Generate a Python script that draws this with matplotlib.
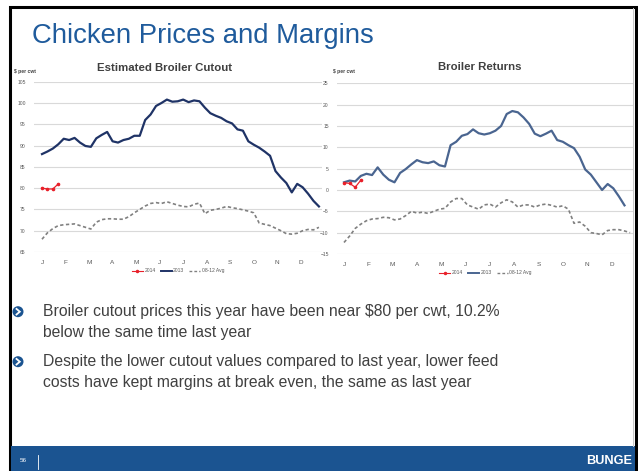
import matplotlib
matplotlib.use("Agg")
import matplotlib.pyplot as plt
from matplotlib.lines import Line2D
from matplotlib.patches import Rectangle, Ellipse
import numpy as np

plt.rcParams['font.family'] = ['Liberation Sans', 'DejaVu Sans']

# ---------------- data ----------------
month_labels = ["J", "F", "M", "A", "M", "J", "J", "A", "S", "O", "N", "D"]
series_names = ["2014", "2013", "08-12 Avg"]

cutout_2014 = [80.0, 79.8, 79.8, 81.0]
cutout_2013 = [88.0, 88.6, 89.3, 90.3, 91.6, 91.3, 91.8, 90.7, 89.9, 89.7,
               91.7, 92.5, 93.2, 91.0, 90.7, 91.3, 91.6, 92.3, 92.3, 96.0,
               97.3, 99.3, 100.0, 100.8, 100.3, 100.4, 100.8, 100.2, 100.6, 100.4,
               98.9, 97.6, 97.0, 96.5, 95.7, 95.2, 93.8, 93.5, 91.0, 90.2,
               89.5, 88.6, 87.6, 84.0, 82.5, 81.2, 79.0, 81.0, 80.2, 78.7,
               77.0, 75.7]
cutout_avg = [68.0, 69.5, 70.5, 71.2, 71.4, 71.5, 71.6, 71.2, 70.8, 70.4,
              72.0, 72.6, 72.8, 72.8, 72.7, 72.7, 73.3, 74.2, 75.0, 75.8,
              76.4, 76.6, 76.4, 76.8, 76.4, 76.0, 75.7, 75.6, 76.2, 76.5,
              74.0, 74.8, 75.0, 75.3, 75.7, 75.4, 75.2, 74.9, 74.6, 74.2,
              71.8, 71.5, 71.2, 70.6, 70.0, 69.3, 69.2, 69.4, 70.0, 70.3,
              70.2, 70.8]

returns_2014 = [1.7, 1.55, 0.65, 2.3]
returns_2013 = [1.8, 2.2, 2.0, 3.3, 3.8, 3.5, 5.3, 3.6, 2.4, 1.8,
                4.0, 4.9, 6.0, 7.0, 6.5, 6.3, 6.7, 5.8, 5.5, 10.5,
                11.3, 12.7, 13.1, 14.2, 13.3, 13.0, 13.3, 13.9, 15.0, 17.8,
                18.5, 18.2, 17.0, 15.5, 13.2, 12.6, 13.2, 13.9, 11.7, 11.3,
                10.5, 9.8, 7.8, 4.8, 3.6, 1.8, 0.0, 1.4, 0.4, -1.5,
                -3.6]
returns_avg = [-12.3, -10.8, -9.0, -8.0, -7.2, -6.8, -6.7, -6.4, -6.5, -7.0,
               -6.8, -6.0, -5.0, -5.4, -5.2, -5.5, -5.0, -4.5, -4.3, -2.8,
               -2.0, -2.0, -3.5, -4.0, -4.5, -3.5, -3.3, -4.0, -3.0, -2.3,
               -2.8, -4.0, -3.5, -3.5, -4.0, -3.5, -3.3, -3.6, -4.0, -3.7,
               -4.5, -7.8, -7.5, -8.5, -10.0, -10.2, -10.5, -9.5, -9.3, -9.3,
               -9.6, -10.0]

bullets = [
    "Broiler cutout prices this year have been near $80 per cwt, 10.2%\nbelow the same time last year",
    "Despite the lower cutout values compared to last year, lower feed\ncosts have kept margins at break even, the same as last year",
]

# ---------------- figure ----------------
W, H = 638, 471
fig = plt.figure(figsize=(W / 100, H / 100), dpi=100)
fig.patch.set_facecolor("white")

def fx(px):
    return px / W

def fy(py):
    return 1 - py / H

# slide frame
fig.add_artist(Rectangle((fx(9.5), fy(471)), fx(626), fy(6.5) - fy(471),
                         transform=fig.transFigure, fill=False, edgecolor="black",
                         linewidth=2.2, zorder=0))
fig.add_artist(Line2D([fx(633), fx(633)], [fy(8), fy(446)], transform=fig.transFigure,
                      color="#c8c8c8", linewidth=0.7))
# footer bar
fig.add_artist(Rectangle((fx(10.5), 0), fx(624), fy(446), transform=fig.transFigure,
                         facecolor="#1b5491", edgecolor="none", zorder=1))
fig.text(fx(20), fy(461), "56", color="white", fontsize=4.5, va="center", ha="left")
fig.add_artist(Line2D([fx(38), fx(38)], [fy(455), fy(469)], transform=fig.transFigure,
                      color="white", linewidth=0.6))
fig.text(fx(632), fy(461), "BUNGE", color="white", fontsize=9.2, fontweight="bold",
         va="center", ha="right")

# title
fig.text(fx(32), fy(36), "Chicken Prices and Margins", color="#1f5b9c",
         fontsize=19.8, va="center", ha="left")

C2014 = "#e8202a"
C13L = "#1f3366"
C13R = "#4a6590"
CAVG = "#808080"

def style_axes(ax, ylim, yticks):
    ax.set_ylim(*ylim)
    ax.set_yticks(yticks)
    ax.set_xticks([i * 52 / 12 for i in range(12)])
    ax.set_xticklabels(month_labels)
    for s in ax.spines.values():
        s.set_visible(False)
    ax.tick_params(length=0, colors="#595959")
    ax.tick_params(axis="y", labelsize=3.6, pad=6)
    ax.tick_params(axis="x", labelsize=4.6, pad=6)
    ax.grid(axis="y", color="#d9d9d9", linewidth=0.8)
    ax.set_axisbelow(True)

def legend(ax, c13):
    handles = [Line2D([], [], color=C2014, lw=0.8, marker="o", markersize=1.5),
               Line2D([], [], color=c13, lw=1.4),
               Line2D([], [], color=CAVG, lw=1.0, linestyle=(0, (2, 1.5)))]
    leg = ax.legend(handles, series_names, loc="upper center",
                    bbox_to_anchor=(0.5, -0.07), ncol=3, frameon=False,
                    fontsize=3.6, handlelength=2.2, handletextpad=0.3,
                    columnspacing=1.0, labelcolor="#595959")
    return leg

# left chart
axL = fig.add_axes([fx(34), fy(252), fx(322 - 34), (252 - 81.7) / H])
axL.plot(np.arange(len(cutout_avg)), cutout_avg, color=CAVG, lw=1.2,
         linestyle=(0, (2, 1.5)))
axL.plot(np.arange(len(cutout_2013)), cutout_2013, color=C13L, lw=1.6)
axL.plot(np.arange(len(cutout_2014)), cutout_2014, color=C2014, lw=0.9,
         marker="o", markersize=1.6)
axL.set_xlim((34 - 42) / 5.43, (322 - 42) / 5.43)
style_axes(axL, (65, 105), range(65, 106, 5))
legend(axL, C13L)
fig.text(fx(13.5), fy(71), "$ per cwt", fontsize=3.6, fontweight="bold",
         color="#404040", va="center", ha="left")
fig.text(fx(165), fy(68), "Estimated Broiler Cutout", fontsize=8.2,
         fontweight="bold", color="#404040", va="center", ha="center")

# right chart
axR = fig.add_axes([fx(337), fy(254), fx(634 - 337), (254 - 83.3) / H])
axR.plot(np.arange(len(returns_avg)), returns_avg, color=CAVG, lw=1.2,
         linestyle=(0, (2, 1.5)))
axR.plot(np.arange(len(returns_2013)), returns_2013, color=C13R, lw=1.6)
axR.plot(np.arange(len(returns_2014)), returns_2014, color=C2014, lw=0.9,
         marker="o", markersize=1.6)
axR.set_xlim((337 - 344) / 5.61, (634 - 344) / 5.61)
style_axes(axR, (-15, 25), range(-15, 26, 5))
legend(axR, C13R)
fig.text(fx(333), fy(72), "$ per cwt", fontsize=3.6, fontweight="bold",
         color="#404040", va="center", ha="left")
fig.text(fx(480), fy(67), "Broiler Returns", fontsize=8.2,
         fontweight="bold", color="#404040", va="center", ha="center")

# bullets
for by, txt in zip([311.7, 361.7], bullets):
    fig.add_artist(Ellipse((fx(18), fy(by)), 11 / W, 11 / H, transform=fig.transFigure,
                           facecolor="#1b5491", edgecolor="none"))
    fig.add_artist(Line2D([fx(16.5), fx(19.8), fx(16.5)],
                          [fy(by - 2.8), fy(by), fy(by + 2.8)],
                          transform=fig.transFigure, color="white", linewidth=1.3,
                          solid_joinstyle="miter"))
    fig.text(fx(43), fy(by - 7.5), txt, color="#404040", fontsize=11.3,
             va="top", ha="left", linespacing=1.5)

fig.savefig("out.png", dpi=100)
